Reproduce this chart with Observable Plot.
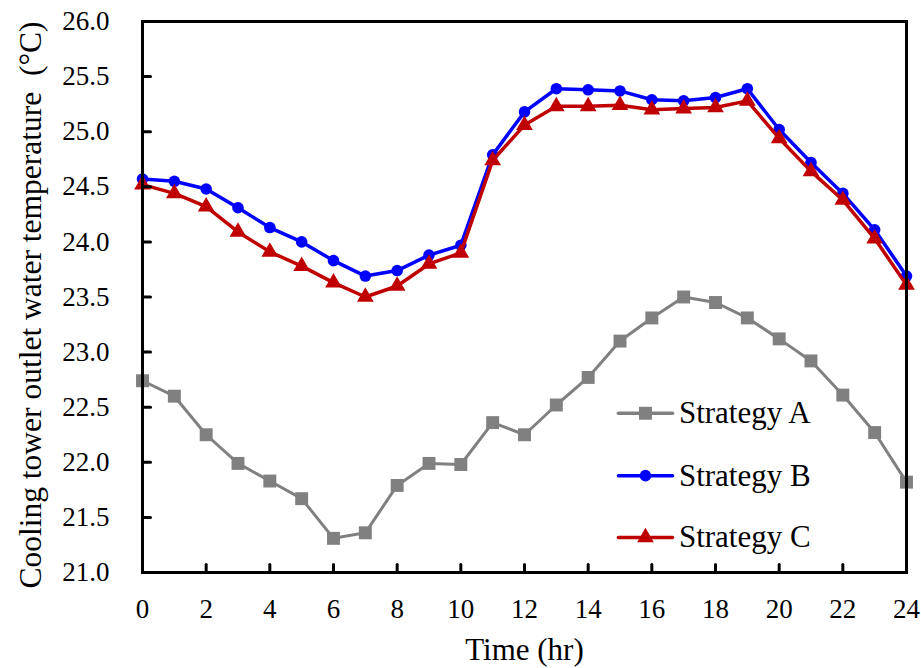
<!DOCTYPE html>
<html><head><meta charset="utf-8">
<script src="https://cdn.jsdelivr.net/npm/d3@7"></script>
<script src="https://cdn.jsdelivr.net/npm/@observablehq/plot@0.6"></script>
<style>body{margin:0;background:#fff}#chart{width:921px;height:668px}#chart svg, #chart svg text{font-family:'Liberation Serif','Times New Roman',serif !important;font-variant:normal !important}</style>
</head><body><div id="chart"></div>
<script>
// ---- data ----
const hours = [0,1,2,3,4,5,6,7,8,9,10,11,12,13,14,15,16,17,18,19,20,21,22,23,24];
const strategyA = [22.74,22.60,22.25,21.99,21.83,21.67,21.31,21.36,21.79,21.99,21.98,22.36,22.25,22.52,22.77,23.10,23.31,23.50,23.45,23.31,23.12,22.92,22.61,22.27,21.82];
const strategyB = [24.57,24.55,24.48,24.31,24.13,24.00,23.83,23.69,23.74,23.88,23.97,24.79,25.18,25.39,25.38,25.37,25.29,25.28,25.31,25.39,25.02,24.72,24.44,24.11,23.69];
const strategyC = [24.52,24.44,24.32,24.09,23.91,23.78,23.63,23.50,23.60,23.80,23.90,24.74,25.06,25.23,25.23,25.24,25.20,25.21,25.22,25.28,24.94,24.64,24.38,24.03,23.61];
const seriesNames = ["Strategy A","Strategy B","Strategy C"];
const xTicks = [0,2,4,6,8,10,12,14,16,18,20,22,24];
const yTicks = [21.0,21.5,22.0,22.5,23.0,23.5,24.0,24.5,25.0,25.5,26.0];
const xLabel = "Time (hr)";
const yLabel = "Cooling tower outlet water temperature  (°C)";

// ---- styles ----
const colors = {"Strategy A":"#808080","Strategy B":"#0000FF","Strategy C":"#C00000"};
const symbols = {"Strategy A":"square","Strategy B":"circle","Strategy C":"triangle"};
const radii = {"Strategy A":7.3,"Strategy B":5.8,"Strategy C":6.2};
const font = "'Liberation Serif','Times New Roman',serif";

// ---- table ----
const valuesBy = {"Strategy A":strategyA,"Strategy B":strategyB,"Strategy C":strategyC};
const rows = seriesNames.flatMap(s => hours.map((h,i) => ({series:s, hour:h, temp:valuesBy[s][i]})));

// legend layout (in data units of the chart)
const legendLineX = [14.95, 16.65];
const legendMarkX = 15.8;
const legendTextX = 16.85;
const legendRowY = [22.445, 21.879, 21.318];
const legendRows = seriesNames.map((s,i)=>({series:s, y:legendRowY[i]}));

const marks = [];
for (const s of seriesNames) {
  const d = rows.filter(r=>r.series===s);
  marks.push(Plot.line(d,{x:"hour",y:"temp",stroke:colors[s],strokeWidth:s==="Strategy A"?3:3.5}));
  marks.push(Plot.dot(d,{x:"hour",y:"temp",fill:colors[s],stroke:"none",symbol:symbols[s],r:radii[s]}));
}
for (const L of legendRows) {
  marks.push(Plot.line([{x:legendLineX[0],y:L.y},{x:legendLineX[1],y:L.y}],{x:"x",y:"y",stroke:colors[L.series],strokeWidth:3.5}));
  marks.push(Plot.dot([L],{x:()=>legendMarkX,y:"y",fill:colors[L.series],stroke:"none",symbol:symbols[L.series],r:radii[L.series]}));
  marks.push(Plot.text([L],{x:()=>legendTextX,y:"y",text:"series",textAnchor:"start",fontSize:31,fill:"black",fontFamily:font}));
}

const chart = Plot.plot({
  width:921, height:668,
  marginLeft:142, marginRight:15, marginTop:21, marginBottom:96,
  style:{fontFamily:font, background:"white", color:"black"},
  x:{domain:[0,24]},
  y:{domain:[21,26]},
  marks:[
    ...marks,
    Plot.axisX({ticks:xTicks, tickSize:0, tickPadding:26, fontSize:27, label:null, fontFamily:font, fontVariant:"normal", tickFormat:d=>String(d)}),
    Plot.axisY({ticks:yTicks, tickSize:0, tickPadding:33, fontSize:27, label:null, fontFamily:font, fontVariant:"normal", tickFormat:d3.format(".1f")}),
    Plot.vector(xTicks,{x:d=>d, y:()=>21, length:8, rotate:0, anchor:"start", stroke:"black", strokeWidth:3, shape:{draw(ctx,l){ctx.moveTo(0,0);ctx.lineTo(0,-l);}}}),
    Plot.vector(yTicks,{x:()=>0, y:d=>d, length:8, rotate:90, anchor:"start", stroke:"black", strokeWidth:3, shape:{draw(ctx,l){ctx.moveTo(0,0);ctx.lineTo(0,-l);}}}),
    Plot.frame({stroke:"black", strokeWidth:3}),
    Plot.text([xLabel],{frameAnchor:"bottom", dy:78, text:d=>d, fontSize:31, fill:"black", lineAnchor:"middle", textAnchor:"middle", fontFamily:font}),
    Plot.text([yLabel],{frameAnchor:"left", dx:-112, dy:8, rotate:-90, text:d=>d, fontSize:31.5, fill:"black", lineAnchor:"middle", textAnchor:"middle", fontFamily:font})
  ]
});
document.getElementById("chart").appendChild(chart);
</script>
</body></html>
